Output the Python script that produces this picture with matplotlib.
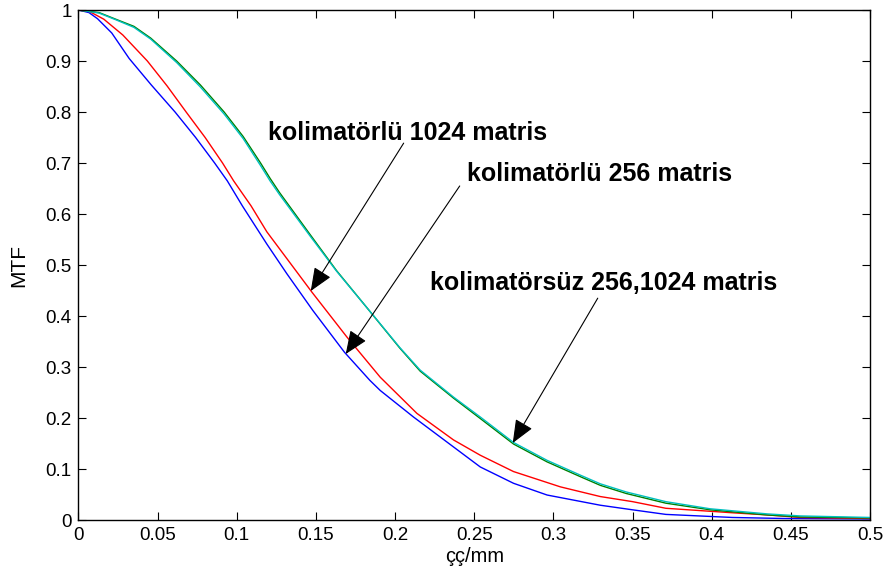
import matplotlib
matplotlib.use("Agg")
import matplotlib.pyplot as plt

plt.rcParams['font.family'] = ['Liberation Sans', 'DejaVu Sans']

# kolimatörsüz 1024 / 256 matris (mavi, kırmızı)
x_mavi = [0, 0.0066, 0.012, 0.021, 0.032, 0.046, 0.061, 0.074, 0.086, 0.094,
          0.1035, 0.119, 0.1316, 0.148, 0.168, 0.184, 0.1906, 0.2116, 0.2327,
          0.2538, 0.2748, 0.296, 0.3296, 0.350, 0.371, 0.392, 0.413, 0.445, 0.5]
y_mavi = [1.0, 0.995, 0.983, 0.955, 0.905, 0.853, 0.8, 0.750, 0.7, 0.665,
          0.616, 0.541, 0.483, 0.411, 0.329, 0.274, 0.254, 0.202, 0.153,
          0.104, 0.072, 0.049, 0.029, 0.020, 0.011, 0.008, 0.005, 0.003, 0.002]

x_kirmizi = [0, 0.007, 0.016, 0.028, 0.0435, 0.056, 0.068, 0.080, 0.091, 0.098,
             0.109, 0.119, 0.1474, 0.1695, 0.1906, 0.2138, 0.2369, 0.2538,
             0.2748, 0.3044, 0.3296, 0.350, 0.371, 0.414, 0.435, 0.456, 0.5]
y_kirmizi = [1.0, 0.997, 0.982, 0.951, 0.9, 0.851, 0.8, 0.750, 0.7, 0.665,
             0.616, 0.565, 0.447, 0.359, 0.280, 0.209, 0.157, 0.127,
             0.095, 0.065, 0.046, 0.036, 0.023, 0.014, 0.010, 0.005, 0.003]

# kolimatörlü (yeşil, camgöbeği)
x_yesil = [0, 0.013, 0.0235, 0.035, 0.0456, 0.062, 0.077, 0.092, 0.104, 0.115,
           0.121, 0.127, 0.146, 0.163, 0.182, 0.203, 0.2158, 0.2369, 0.2538,
           0.2748, 0.296, 0.317, 0.3296, 0.346, 0.371, 0.399, 0.435, 0.456, 0.5]
y_yesil = [1.0, 0.995, 0.982, 0.968, 0.945, 0.9, 0.853, 0.8, 0.752, 0.7,
           0.670, 0.642, 0.561, 0.489, 0.417, 0.337, 0.292, 0.239, 0.199,
           0.149, 0.114, 0.085, 0.068, 0.052, 0.033, 0.020, 0.010, 0.006, 0.004]
y_cam = [1.0, 0.994, 0.981, 0.966, 0.943, 0.897, 0.849, 0.796, 0.748, 0.695,
         0.665, 0.638, 0.558, 0.488, 0.417, 0.338, 0.294, 0.241, 0.202,
         0.152, 0.117, 0.088, 0.071, 0.055, 0.036, 0.022, 0.012, 0.008, 0.005]

etiketler = ['kolimatörlü 1024 matris', 'kolimatörlü 256 matris',
             'kolimatörsüz 256,1024 matris']
etiket_yer = [(0.1195, 0.746), (0.2453, 0.665), (0.2219, 0.451)]
ok_uc = [(0.1467, 0.449), (0.1688, 0.3255), (0.2743, 0.151)]
ok_kuyruk = [(0.2054, 0.739), (0.2408, 0.655), (0.328, 0.435)]

fig = plt.figure(figsize=(8.85, 5.76), dpi=100)
ax = fig.add_axes([0.0887, 0.0972, 0.8944, 0.8854])

ax.plot(x_mavi, y_mavi, color='#0000ff', lw=1.0)
ax.plot(x_kirmizi, y_kirmizi, color='#ff0000', lw=1.0)
ax.plot(x_yesil, y_yesil, color='#008000', lw=1.0)
ax.plot(x_yesil, y_cam, color='#00bfbf', lw=1.0)

for t, (tx, ty) in zip(etiketler, etiket_yer):
    ax.text(tx, ty, t, fontsize=18, fontweight='bold', va='baseline', ha='left')

for uc, kuyruk in zip(ok_uc, ok_kuyruk):
    ax.annotate('', xy=uc, xytext=kuyruk,
                arrowprops=dict(arrowstyle='-|>,head_length=1.2,head_width=0.5',
                                color='k', lw=0.8, mutation_scale=12,
                                shrinkA=0, shrinkB=0))

ax.set_xlim(0, 0.5)
ax.set_ylim(0, 1)
ax.set_xticks([0, 0.05, 0.1, 0.15, 0.2, 0.25, 0.3, 0.35, 0.4, 0.45, 0.5])
ax.set_xticklabels(['0', '0.05', '0.1', '0.15', '0.2', '0.25', '0.3', '0.35',
                    '0.4', '0.45', '0.5'])
ax.set_yticks([0, 0.1, 0.2, 0.3, 0.4, 0.5, 0.6, 0.7, 0.8, 0.9, 1])
ax.set_yticklabels(['0', '0.1', '0.2', '0.3', '0.4', '0.5', '0.6', '0.7',
                    '0.8', '0.9', '1'])
ax.tick_params(direction='in', length=6, width=0.8, top=True, right=True,
               labelsize=13.5, pad=5)
for s in ax.spines.values():
    s.set_linewidth(1.0)

ax.set_xlabel('çç/mm', fontsize=14.5, labelpad=2)
ax.set_ylabel('MTF', fontsize=15, labelpad=12)

fig.savefig('out.png', dpi=100)
